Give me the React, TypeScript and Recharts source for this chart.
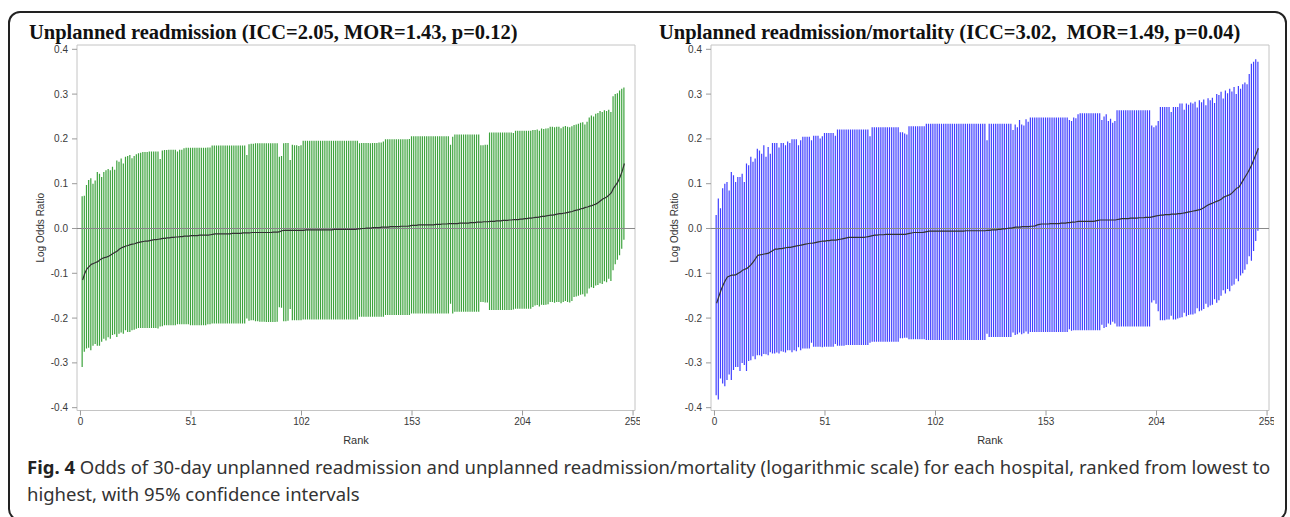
import React from "react";
import {
  ComposedChart,
  Bar,
  Line,
  XAxis,
  YAxis,
  ReferenceLine,
  ReferenceArea,
  Label,
} from "recharts";

// x axis ticks (hospital rank) and y axis ticks (log odds ratio)
const RANK_TICKS = [0, 51, 102, 153, 204, 255];
const LOG_ODDS_TICKS = [-0.4, -0.3, -0.2, -0.1, 0, 0.1, 0.2, 0.3, 0.4];

// Unplanned readmission: estimate, lower and upper 95% CI, hospitals ranked 1..251
const readmitEst = [
  -0.115, -0.100, -0.090, -0.085, -0.080, -0.078, -0.076, -0.074, -0.070, -0.067,
  -0.065, -0.064, -0.062, -0.059, -0.056, -0.053, -0.050, -0.046, -0.043, -0.041,
  -0.039, -0.038, -0.036, -0.035, -0.034, -0.032, -0.031, -0.030, -0.029, -0.028,
  -0.028, -0.027, -0.026, -0.025, -0.025, -0.024, -0.023, -0.022, -0.022, -0.021,
  -0.021, -0.020, -0.020, -0.019, -0.019, -0.018, -0.018, -0.017, -0.017, -0.017,
  -0.016, -0.016, -0.016, -0.016, -0.015, -0.015, -0.015, -0.015, -0.015, -0.014,
  -0.013, -0.012, -0.012, -0.012, -0.012, -0.012, -0.012, -0.012, -0.012, -0.011,
  -0.011, -0.011, -0.011, -0.011, -0.010, -0.010, -0.010, -0.010, -0.009, -0.009,
  -0.009, -0.009, -0.009, -0.009, -0.009, -0.009, -0.009, -0.009, -0.008, -0.008,
  -0.008, -0.007, -0.005, -0.004, -0.004, -0.004, -0.004, -0.004, -0.004, -0.004,
  -0.004, -0.004, -0.004, -0.003, -0.003, -0.003, -0.003, -0.003, -0.003, -0.003,
  -0.003, -0.003, -0.003, -0.003, -0.003, -0.003, -0.002, -0.002, -0.002, -0.002,
  -0.002, -0.002, -0.002, -0.002, -0.002, -0.002, -0.002, -0.001, -0.001, 0.000,
  0.000, 0.001, 0.001, 0.001, 0.002, 0.002, 0.002, 0.002, 0.003, 0.003,
  0.003, 0.003, 0.004, 0.004, 0.004, 0.004, 0.004, 0.005, 0.005, 0.005,
  0.005, 0.006, 0.007, 0.007, 0.007, 0.008, 0.008, 0.008, 0.008, 0.008,
  0.008, 0.008, 0.008, 0.009, 0.009, 0.009, 0.010, 0.010, 0.010, 0.011,
  0.011, 0.011, 0.011, 0.011, 0.012, 0.012, 0.012, 0.012, 0.012, 0.013,
  0.013, 0.013, 0.014, 0.014, 0.014, 0.015, 0.015, 0.015, 0.016, 0.016,
  0.016, 0.017, 0.017, 0.017, 0.018, 0.018, 0.018, 0.019, 0.019, 0.020,
  0.020, 0.020, 0.021, 0.021, 0.022, 0.022, 0.023, 0.023, 0.024, 0.025,
  0.025, 0.026, 0.027, 0.027, 0.028, 0.029, 0.030, 0.030, 0.031, 0.032,
  0.033, 0.033, 0.034, 0.035, 0.036, 0.037, 0.038, 0.040, 0.041, 0.042,
  0.044, 0.045, 0.047, 0.048, 0.050, 0.051, 0.053, 0.055, 0.058, 0.062,
  0.066, 0.068, 0.071, 0.075, 0.080, 0.090, 0.097, 0.104, 0.115, 0.128, 0.145,
];
const readmitLo = [
  -0.309, -0.275, -0.268, -0.266, -0.272, -0.262, -0.258, -0.262, -0.262, -0.253,
  -0.246, -0.250, -0.243, -0.246, -0.238, -0.236, -0.242, -0.235, -0.232, -0.235,
  -0.227, -0.231, -0.231, -0.227, -0.226, -0.224, -0.222, -0.222, -0.222, -0.222,
  -0.222, -0.222, -0.222, -0.222, -0.222, -0.223, -0.219, -0.218, -0.216, -0.216,
  -0.216, -0.216, -0.216, -0.216, -0.214, -0.214, -0.214, -0.214, -0.214, -0.214,
  -0.216, -0.216, -0.216, -0.216, -0.216, -0.216, -0.216, -0.216, -0.214, -0.214,
  -0.212, -0.212, -0.212, -0.212, -0.212, -0.212, -0.212, -0.212, -0.212, -0.212,
  -0.212, -0.212, -0.212, -0.212, -0.212, -0.212, -0.201, -0.206, -0.205, -0.205,
  -0.207, -0.207, -0.208, -0.208, -0.208, -0.209, -0.209, -0.209, -0.209, -0.209,
  -0.208, -0.176, -0.177, -0.207, -0.207, -0.206, -0.180, -0.205, -0.205, -0.205,
  -0.205, -0.205, -0.203, -0.203, -0.203, -0.203, -0.203, -0.203, -0.203, -0.203,
  -0.203, -0.203, -0.203, -0.203, -0.203, -0.203, -0.203, -0.203, -0.203, -0.203,
  -0.203, -0.203, -0.203, -0.203, -0.203, -0.203, -0.203, -0.203, -0.197, -0.197,
  -0.197, -0.197, -0.197, -0.197, -0.197, -0.197, -0.197, -0.197, -0.197, -0.197,
  -0.193, -0.193, -0.193, -0.193, -0.193, -0.193, -0.193, -0.193, -0.193, -0.193,
  -0.193, -0.193, -0.190, -0.190, -0.190, -0.190, -0.190, -0.190, -0.190, -0.190,
  -0.190, -0.190, -0.190, -0.190, -0.190, -0.190, -0.190, -0.190, -0.190, -0.190,
  -0.168, -0.190, -0.186, -0.186, -0.186, -0.186, -0.186, -0.186, -0.186, -0.186,
  -0.186, -0.186, -0.186, -0.186, -0.164, -0.164, -0.165, -0.165, -0.182, -0.182,
  -0.182, -0.182, -0.182, -0.182, -0.182, -0.182, -0.182, -0.182, -0.182, -0.181,
  -0.179, -0.179, -0.179, -0.179, -0.179, -0.179, -0.179, -0.179, -0.175, -0.172,
  -0.171, -0.174, -0.170, -0.171, -0.170, -0.169, -0.164, -0.164, -0.166, -0.164,
  -0.164, -0.167, -0.164, -0.162, -0.164, -0.165, -0.162, -0.153, -0.152, -0.150,
  -0.148, -0.147, -0.152, -0.145, -0.134, -0.131, -0.133, -0.127, -0.126, -0.122,
  -0.124, -0.118, -0.120, -0.112, -0.117, -0.093, -0.080, -0.070, -0.060, -0.045, -0.025,
];
const readmitHi = [
  0.072, 0.073, 0.097, 0.108, 0.112, 0.100, 0.107, 0.126, 0.122, 0.115,
  0.126, 0.130, 0.133, 0.130, 0.138, 0.131, 0.152, 0.149, 0.156, 0.145,
  0.160, 0.162, 0.164, 0.157, 0.162, 0.166, 0.168, 0.169, 0.171, 0.171,
  0.171, 0.172, 0.172, 0.172, 0.172, 0.172, 0.155, 0.174, 0.175, 0.175,
  0.176, 0.176, 0.176, 0.176, 0.172, 0.176, 0.176, 0.179, 0.180, 0.180,
  0.180, 0.180, 0.180, 0.180, 0.180, 0.180, 0.180, 0.180, 0.181, 0.181,
  0.185, 0.185, 0.185, 0.185, 0.185, 0.185, 0.185, 0.185, 0.185, 0.185,
  0.185, 0.185, 0.185, 0.185, 0.185, 0.185, 0.164, 0.188, 0.189, 0.189,
  0.190, 0.190, 0.190, 0.190, 0.190, 0.190, 0.190, 0.190, 0.190, 0.190,
  0.190, 0.160, 0.162, 0.190, 0.191, 0.191, 0.153, 0.187, 0.186, 0.186,
  0.184, 0.186, 0.196, 0.196, 0.196, 0.196, 0.196, 0.196, 0.196, 0.196,
  0.196, 0.196, 0.196, 0.196, 0.196, 0.196, 0.196, 0.196, 0.196, 0.196,
  0.196, 0.196, 0.196, 0.196, 0.196, 0.196, 0.196, 0.196, 0.190, 0.191,
  0.191, 0.191, 0.191, 0.190, 0.191, 0.191, 0.191, 0.192, 0.192, 0.194,
  0.199, 0.199, 0.199, 0.199, 0.199, 0.199, 0.199, 0.199, 0.199, 0.199,
  0.199, 0.200, 0.206, 0.206, 0.206, 0.206, 0.206, 0.206, 0.206, 0.206,
  0.206, 0.206, 0.206, 0.206, 0.206, 0.206, 0.206, 0.206, 0.206, 0.206,
  0.187, 0.205, 0.210, 0.210, 0.210, 0.210, 0.210, 0.210, 0.210, 0.210,
  0.210, 0.210, 0.210, 0.210, 0.186, 0.186, 0.187, 0.187, 0.214, 0.214,
  0.214, 0.214, 0.214, 0.214, 0.214, 0.214, 0.214, 0.214, 0.214, 0.213,
  0.218, 0.218, 0.218, 0.218, 0.218, 0.218, 0.218, 0.218, 0.220, 0.220,
  0.221, 0.218, 0.223, 0.222, 0.223, 0.224, 0.227, 0.227, 0.226, 0.227,
  0.227, 0.224, 0.227, 0.229, 0.227, 0.226, 0.228, 0.231, 0.232, 0.234,
  0.236, 0.237, 0.232, 0.238, 0.248, 0.252, 0.250, 0.256, 0.258, 0.262,
  0.260, 0.264, 0.262, 0.265, 0.260, 0.295, 0.300, 0.302, 0.308, 0.312, 0.315,
];

// Unplanned readmission / mortality
const mortEst = [
  -0.167, -0.152, -0.138, -0.126, -0.116, -0.108, -0.106, -0.104, -0.104, -0.103,
  -0.100, -0.097, -0.093, -0.091, -0.089, -0.085, -0.080, -0.074, -0.067, -0.060,
  -0.059, -0.058, -0.057, -0.056, -0.055, -0.052, -0.049, -0.046, -0.046, -0.045,
  -0.045, -0.044, -0.043, -0.042, -0.042, -0.041, -0.040, -0.039, -0.038, -0.037,
  -0.036, -0.035, -0.034, -0.033, -0.033, -0.032, -0.031, -0.030, -0.029, -0.028,
  -0.028, -0.027, -0.027, -0.026, -0.026, -0.026, -0.025, -0.024, -0.023, -0.022,
  -0.021, -0.020, -0.020, -0.020, -0.020, -0.020, -0.020, -0.020, -0.020, -0.019,
  -0.018, -0.017, -0.016, -0.015, -0.015, -0.014, -0.014, -0.014, -0.013, -0.013,
  -0.013, -0.013, -0.013, -0.013, -0.013, -0.013, -0.013, -0.013, -0.012, -0.011,
  -0.010, -0.009, -0.009, -0.009, -0.009, -0.009, -0.008, -0.007, -0.006, -0.006,
  -0.006, -0.006, -0.006, -0.006, -0.006, -0.006, -0.006, -0.006, -0.006, -0.006,
  -0.006, -0.006, -0.006, -0.006, -0.006, -0.005, -0.005, -0.005, -0.005, -0.005,
  -0.005, -0.005, -0.005, -0.005, -0.005, -0.004, -0.004, -0.003, -0.003, -0.003,
  -0.002, -0.002, -0.001, -0.001, 0.000, 0.001, 0.001, 0.002, 0.003, 0.003,
  0.003, 0.004, 0.004, 0.004, 0.004, 0.005, 0.005, 0.006, 0.008, 0.009,
  0.010, 0.010, 0.010, 0.010, 0.011, 0.011, 0.011, 0.011, 0.011, 0.012,
  0.012, 0.012, 0.013, 0.013, 0.014, 0.014, 0.015, 0.016, 0.016, 0.016,
  0.016, 0.016, 0.016, 0.016, 0.016, 0.017, 0.018, 0.019, 0.019, 0.019,
  0.019, 0.019, 0.019, 0.019, 0.019, 0.020, 0.021, 0.022, 0.022, 0.022,
  0.022, 0.023, 0.023, 0.023, 0.023, 0.024, 0.024, 0.024, 0.025, 0.025,
  0.025, 0.026, 0.027, 0.028, 0.029, 0.030, 0.030, 0.031, 0.031, 0.031,
  0.032, 0.032, 0.032, 0.033, 0.033, 0.034, 0.035, 0.036, 0.037, 0.038,
  0.039, 0.040, 0.041, 0.042, 0.044, 0.047, 0.050, 0.053, 0.055, 0.057,
  0.059, 0.061, 0.063, 0.066, 0.070, 0.072, 0.074, 0.076, 0.080, 0.085,
  0.090, 0.092, 0.100, 0.108, 0.116, 0.124, 0.133, 0.143, 0.155, 0.167, 0.179,
];
const mortLo = [
  -0.372, -0.382, -0.335, -0.346, -0.352, -0.338, -0.326, -0.338, -0.316, -0.309,
  -0.309, -0.318, -0.300, -0.305, -0.318, -0.296, -0.294, -0.285, -0.292, -0.283,
  -0.283, -0.285, -0.280, -0.281, -0.283, -0.276, -0.279, -0.279, -0.277, -0.279,
  -0.274, -0.275, -0.277, -0.272, -0.272, -0.276, -0.272, -0.274, -0.265, -0.272,
  -0.268, -0.268, -0.268, -0.268, -0.255, -0.264, -0.264, -0.264, -0.264, -0.265,
  -0.264, -0.264, -0.264, -0.264, -0.264, -0.258, -0.262, -0.262, -0.262, -0.262,
  -0.260, -0.260, -0.260, -0.260, -0.260, -0.260, -0.260, -0.260, -0.260, -0.260,
  -0.260, -0.255, -0.253, -0.253, -0.253, -0.253, -0.253, -0.253, -0.253, -0.253,
  -0.253, -0.253, -0.253, -0.253, -0.253, -0.245, -0.245, -0.244, -0.244, -0.247,
  -0.247, -0.247, -0.247, -0.247, -0.247, -0.247, -0.247, -0.249, -0.249, -0.249,
  -0.249, -0.249, -0.249, -0.249, -0.249, -0.249, -0.249, -0.249, -0.249, -0.249,
  -0.249, -0.249, -0.249, -0.249, -0.249, -0.249, -0.249, -0.249, -0.249, -0.249,
  -0.249, -0.249, -0.249, -0.249, -0.249, -0.235, -0.242, -0.242, -0.242, -0.242,
  -0.242, -0.242, -0.242, -0.242, -0.242, -0.242, -0.242, -0.232, -0.238, -0.236,
  -0.232, -0.236, -0.234, -0.230, -0.235, -0.231, -0.231, -0.231, -0.231, -0.231,
  -0.231, -0.231, -0.231, -0.231, -0.231, -0.231, -0.231, -0.231, -0.231, -0.231,
  -0.231, -0.231, -0.231, -0.225, -0.228, -0.227, -0.227, -0.227, -0.227, -0.227,
  -0.227, -0.227, -0.227, -0.227, -0.227, -0.227, -0.227, -0.227, -0.215, -0.222,
  -0.220, -0.212, -0.215, -0.208, -0.212, -0.219, -0.219, -0.219, -0.219, -0.219,
  -0.219, -0.219, -0.219, -0.219, -0.219, -0.219, -0.219, -0.219, -0.219, -0.219,
  -0.219, -0.165, -0.160, -0.168, -0.185, -0.205, -0.205, -0.205, -0.203, -0.203,
  -0.195, -0.203, -0.203, -0.201, -0.199, -0.198, -0.188, -0.196, -0.193, -0.192,
  -0.192, -0.190, -0.178, -0.185, -0.183, -0.180, -0.168, -0.176, -0.172, -0.170,
  -0.158, -0.166, -0.160, -0.150, -0.138, -0.145, -0.135, -0.140, -0.128, -0.125,
  -0.112, -0.118, -0.105, -0.100, -0.092, -0.080, -0.062, -0.072, -0.050, -0.028, -0.005,
];
const mortHi = [
  0.030, 0.067, 0.045, 0.090, 0.100, 0.104, 0.085, 0.126, 0.119, 0.104,
  0.115, 0.115, 0.122, 0.104, 0.145, 0.141, 0.160, 0.149, 0.156, 0.178,
  0.174, 0.167, 0.186, 0.160, 0.182, 0.167, 0.191, 0.191, 0.191, 0.181,
  0.191, 0.191, 0.186, 0.194, 0.191, 0.199, 0.199, 0.199, 0.186, 0.197,
  0.205, 0.205, 0.205, 0.205, 0.197, 0.207, 0.207, 0.207, 0.201, 0.206,
  0.213, 0.213, 0.213, 0.213, 0.213, 0.207, 0.221, 0.221, 0.221, 0.221,
  0.221, 0.221, 0.221, 0.221, 0.221, 0.221, 0.221, 0.221, 0.221, 0.221,
  0.221, 0.206, 0.226, 0.226, 0.226, 0.226, 0.226, 0.226, 0.226, 0.226,
  0.226, 0.226, 0.226, 0.226, 0.226, 0.215, 0.215, 0.212, 0.210, 0.228,
  0.228, 0.228, 0.228, 0.228, 0.228, 0.228, 0.228, 0.234, 0.234, 0.234,
  0.234, 0.234, 0.234, 0.234, 0.234, 0.234, 0.234, 0.234, 0.234, 0.234,
  0.234, 0.234, 0.234, 0.234, 0.234, 0.234, 0.234, 0.234, 0.234, 0.234,
  0.234, 0.234, 0.234, 0.234, 0.234, 0.197, 0.234, 0.234, 0.234, 0.234,
  0.234, 0.234, 0.234, 0.234, 0.234, 0.234, 0.234, 0.220, 0.232, 0.226,
  0.242, 0.232, 0.230, 0.244, 0.238, 0.248, 0.248, 0.248, 0.248, 0.248,
  0.248, 0.248, 0.248, 0.248, 0.248, 0.248, 0.248, 0.248, 0.248, 0.248,
  0.248, 0.248, 0.248, 0.242, 0.240, 0.248, 0.246, 0.255, 0.257, 0.257,
  0.257, 0.257, 0.257, 0.257, 0.257, 0.257, 0.257, 0.257, 0.242, 0.250,
  0.255, 0.240, 0.245, 0.236, 0.240, 0.264, 0.264, 0.264, 0.264, 0.264,
  0.264, 0.264, 0.264, 0.264, 0.264, 0.264, 0.264, 0.264, 0.264, 0.264,
  0.264, 0.230, 0.226, 0.230, 0.240, 0.271, 0.271, 0.271, 0.271, 0.271,
  0.260, 0.271, 0.271, 0.271, 0.279, 0.279, 0.265, 0.279, 0.276, 0.281,
  0.279, 0.283, 0.270, 0.286, 0.282, 0.288, 0.275, 0.291, 0.286, 0.292,
  0.280, 0.300, 0.298, 0.305, 0.290, 0.308, 0.302, 0.312, 0.306, 0.316,
  0.300, 0.318, 0.312, 0.322, 0.326, 0.322, 0.345, 0.368, 0.372, 0.378, 0.372,
];

const X_DOMAIN: [number, number] = [-1.6, 255.9];
const Y_DOMAIN: [number, number] = [-0.4063, 0.4096];

type Row = { rank: number; est: number; ci: [number, number] };

function buildRows(est: number[], lo: number[], hi: number[]): Row[] {
  return est.map((e, i) => ({ rank: i + 1, est: e, ci: [lo[i], hi[i]] }));
}

const readmitRows = buildRows(readmitEst, readmitLo, readmitHi);
const mortRows = buildRows(mortEst, mortLo, mortHi);

const axisText = { fontSize: 10, fill: "#3a3a3a" };

function RankPanel({ rows, color, left }: { rows: Row[]; color: string; left: number }) {
  return (
    <div style={{ position: "absolute", left, top: 0, fontFamily: "'Liberation Sans', Arial, sans-serif" }}>
      <ComposedChart
        width={640}
        height={470}
        data={rows}
        margin={{ top: 45, right: 5, bottom: 0, left: 4 }}
      >
        <XAxis
          dataKey="rank"
          type="number"
          domain={X_DOMAIN}
          ticks={RANK_TICKS}
          interval={0}
          allowDataOverflow
          height={59.5}
          tickSize={5}
          tickMargin={2}
          axisLine={false}
          tickLine={{ stroke: "#9a9a9a" }}
          tick={axisText}
        >
          <Label value="Rank" position="center" fontSize={11} fill="#333" />
        </XAxis>
        <YAxis
          type="number"
          domain={Y_DOMAIN}
          ticks={LOG_ODDS_TICKS}
          interval={0}
          allowDataOverflow
          width={73}
          tickSize={5}
          tickMargin={4}
          axisLine={false}
          tickLine={{ stroke: "#9a9a9a" }}
          tick={axisText}
          tickFormatter={(v: number) => v.toFixed(1)}
        >
          <Label value="Log Odds Ratio" angle={-90} position="center" fontSize={10} fill="#333" />
        </YAxis>
        <ReferenceArea
          x1={X_DOMAIN[0]}
          x2={X_DOMAIN[1]}
          y1={Y_DOMAIN[0]}
          y2={Y_DOMAIN[1]}
          fill="none"
          stroke="#c4c4c4"
          ifOverflow="visible"
        />
        <Bar dataKey="ci" fill={color} barSize={1.2} isAnimationActive={false} />
        <ReferenceLine y={0} stroke="#888" strokeWidth={1} />
        <Line
          dataKey="est"
          type="linear"
          stroke="#333"
          strokeWidth={1.2}
          dot={false}
          isAnimationActive={false}
        />
      </ComposedChart>
    </div>
  );
}

const titleStyle: React.CSSProperties = {
  position: "absolute",
  top: 22,
  fontFamily: "'Liberation Serif', 'Times New Roman', serif",
  fontWeight: "bold",
  fontSize: 20.5,
  lineHeight: "20px",
  whiteSpace: "pre",
  color: "#111",
};

const captionStyle: React.CSSProperties = {
  position: "absolute",
  left: 27,
  fontFamily: "'Noto Sans', 'Open Sans', sans-serif",
  fontSize: 18.5,
  lineHeight: "20px",
  whiteSpace: "pre",
  color: "#333",
};

export default function App() {
  return (
    <div
      style={{
        position: "absolute",
        left: 0,
        top: 0,
        width: 1290,
        height: 517,
        overflow: "hidden",
        background: "#fff",
      }}
    >
      <div
        style={{
          position: "absolute",
          left: 8,
          top: 11,
          width: 1279,
          height: 510,
          boxSizing: "border-box",
          border: "2px solid #222",
          borderRadius: 12,
        }}
      />
      <RankPanel rows={readmitRows} color="#3da33d" left={0} />
      <RankPanel rows={mortRows} color="#4040ff" left={634} />
      <div style={{ ...titleStyle, left: 29 }}>
        Unplanned readmission (ICC=2.05, MOR=1.43, p=0.12)
      </div>
      <div style={{ ...titleStyle, left: 659 }}>
        {"Unplanned readmission/mortality (ICC=3.02,  MOR=1.49, p=0.04)"}
      </div>
      <div style={{ ...captionStyle, top: 457 }}>
        <b style={{ color: "#222" }}>Fig. 4</b> Odds of 30-day unplanned readmission and unplanned
        readmission/mortality (logarithmic scale) for each hospital, ranked from lowest to
      </div>
      <div style={{ ...captionStyle, top: 484 }}>highest, with 95% confidence intervals</div>
    </div>
  );
}
